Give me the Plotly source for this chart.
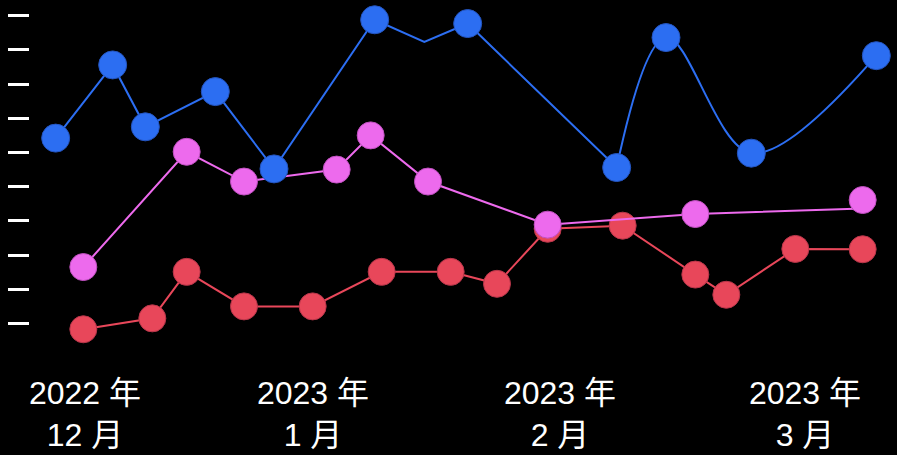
import plotly.graph_objects as go

# ---- data ----
blue_line1_x = ["2022-11-28 05:00", "2022-12-05 08:00", "2022-12-09 10:00", "2022-12-18 04:00",
                "2022-12-25 12:00", "2023-01-07 02:00", "2023-01-13 07:00", "2023-01-18 17:00",
                "2023-02-06 08:00"]
blue_line1_y = [54.2, 75.6, 57.5, 67.8, 45.2, 88.8, 82.3, 87.7, 45.6]
blue_line2_x = ["2023-02-06 08:00", "2023-02-12 12:00", "2023-02-23 04:00", "2023-03-10 19:00"]
blue_line2_y = [45.6, 83.6, 49.8, 78.3]
blue_pts_x = ["2022-11-28 05:00", "2022-12-05 08:00", "2022-12-09 10:00", "2022-12-18 04:00",
              "2022-12-25 12:00", "2023-01-07 02:00", "2023-01-18 17:00", "2023-02-06 08:00",
              "2023-02-12 12:00", "2023-02-23 04:00", "2023-03-10 19:00"]
blue_pts_y = [54.2, 75.6, 57.5, 67.8, 45.2, 88.8, 87.7, 45.6, 83.6, 49.8, 78.3]

pink_x = ["2022-12-01 16:00", "2022-12-14 14:00", "2022-12-21 18:00", "2023-01-02 08:00",
          "2023-01-06 14:00", "2023-01-13 18:00", "2023-01-28 17:00", "2023-02-16 04:00",
          "2023-03-09 02:00"]
pink_line_y = [16.5, 50.2, 41.5, 45.0, 55.0, 41.5, 28.9, 32.0, 33.6]
pink_pts_y = [16.5, 50.2, 41.5, 45.0, 55.0, 41.5, 28.9, 32.0, 36.1]

red_x = ["2022-12-01 16:00", "2022-12-10 07:00", "2022-12-14 14:00", "2022-12-21 18:00",
         "2022-12-30 08:00", "2023-01-07 23:00", "2023-01-16 14:00", "2023-01-22 09:00",
         "2023-01-28 17:00", "2023-02-07 02:00", "2023-02-16 04:00", "2023-02-20 01:00",
         "2023-02-28 16:00", "2023-03-09 02:00"]
red_y = [-1.7, 1.5, 15.1, 5.0, 5.0, 15.1, 15.1, 11.6, 27.7, 28.6, 14.3, 8.4, 21.8, 21.7]

tick_vals = ["2022-12-01 21:00", "2022-12-30 09:00", "2023-01-30 06:00", "2023-03-01 21:00"]
tick_text = ["2022 年<br>12 月", "2023 年<br>1 月", "2023 年<br>2 月", "2023 年<br>3 月"]

x_range = ["2022-11-25 00:00", "2023-03-12 12:00"]
y_range = [-6, 94]

BLUE = "#2c6ef2"
PINK = "#ed6aed"
RED = "#e8475a"

fig = go.Figure()

fig.add_trace(go.Scatter(x=red_x, y=red_y, mode="lines", line=dict(color=RED, width=2)))
fig.add_trace(go.Scatter(x=red_x, y=red_y, mode="markers", cliponaxis=False,
                         marker=dict(color=RED, size=27, line=dict(color="#b8364a", width=1))))
fig.add_trace(go.Scatter(x=pink_x, y=pink_line_y, mode="lines", line=dict(color=PINK, width=2)))
fig.add_trace(go.Scatter(x=pink_x, y=pink_pts_y, mode="markers", cliponaxis=False,
                         marker=dict(color=PINK, size=27, line=dict(color="#c050c0", width=1))))
fig.add_trace(go.Scatter(x=blue_line1_x, y=blue_line1_y, mode="lines", line=dict(color=BLUE, width=2)))
fig.add_trace(go.Scatter(x=blue_line2_x, y=blue_line2_y, mode="lines",
                         line=dict(color=BLUE, width=2, shape="spline")))
fig.add_trace(go.Scatter(x=blue_pts_x, y=blue_pts_y, mode="markers", cliponaxis=False,
                         marker=dict(color=BLUE, size=28, line=dict(color="#2455c0", width=1))))

fig.update_layout(
    width=897, height=455,
    paper_bgcolor="black", plot_bgcolor="black",
    margin=dict(l=30, r=7, t=2, b=111),
    showlegend=False,
    xaxis=dict(type="date", range=x_range, tickvals=tick_vals, ticktext=tick_text,
               showgrid=False, zeroline=False, showline=False, ticks="",
               automargin=False, ticklabelstandoff=27,
               tickfont=dict(family="Arial, 'Noto Sans CJK SC'", size=32, color="white")),
    yaxis=dict(range=y_range, tick0=0, dtick=10, showticklabels=False,
               ticks="outside", ticklen=21, tickwidth=3, tickcolor="white",
               showgrid=False, zeroline=False, showline=False, automargin=False),
)

fig.write_html("out.html", config={"displayModeBar": False},
               post_script="document.body.style.margin='0';document.body.style.background='black';")
